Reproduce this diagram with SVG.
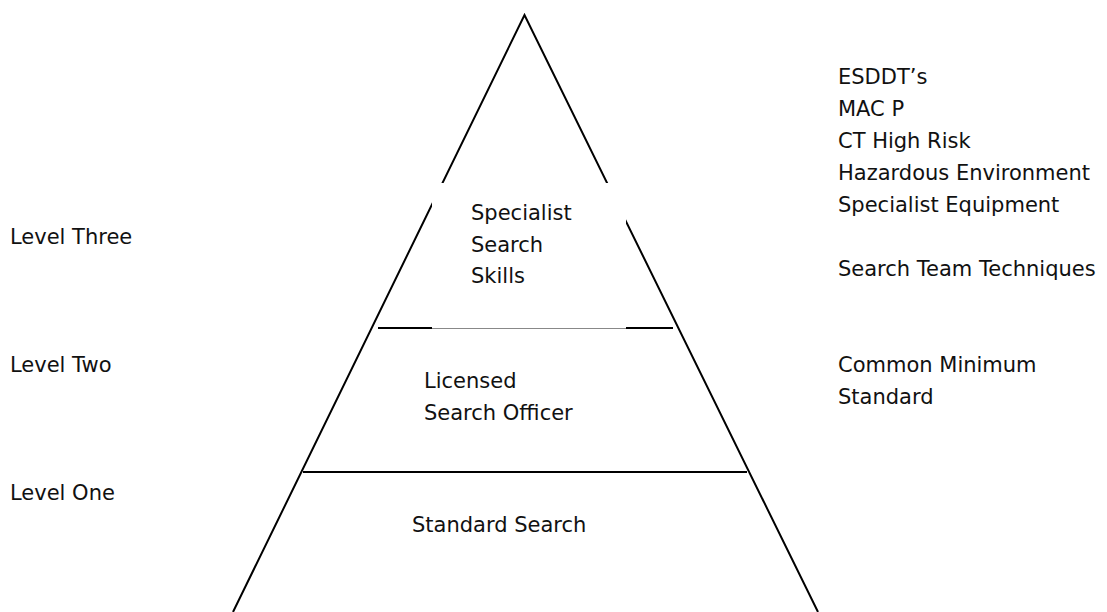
<svg xmlns="http://www.w3.org/2000/svg" width="1107" height="612" viewBox="0 0 1107 612">
<style>
text{font-family:"DejaVu Sans",Verdana,sans-serif;font-size:21px;fill:#111}
.edge{stroke:#000;stroke-width:2;fill:none}
.thin{stroke:#888;stroke-width:1;fill:none}
</style>
<rect width="1107" height="612" fill="#fff"/>
<g id="pyramid">
<path class="edge" d="M233,612 L524.5,15 L818,612"/>
<rect x="432" y="183" width="194" height="145" fill="#fff"/>
</g>
<g id="connectors">
<line class="edge" x1="378" y1="328" x2="432" y2="328"/>
<line class="thin" x1="432" y1="328.5" x2="626" y2="328.5"/>
<line class="edge" x1="626" y1="328" x2="673" y2="328"/>
<line class="edge" x1="303" y1="472" x2="747" y2="472"/>
</g>
<g id="level-three-node">
<text x="471" y="220">Specialist</text>
<text x="471" y="252">Search</text>
<text x="471" y="283">Skills</text>
</g>
<g id="level-two-node">
<text x="424" y="388">Licensed</text>
<text x="424" y="420">Search Officer</text>
</g>
<g id="level-one-node">
<text x="412" y="532">Standard Search</text>
</g>
<g id="level-labels">
<text x="10" y="244">Level Three</text>
<text x="10" y="372">Level Two</text>
<text x="10" y="500">Level One</text>
</g>
<g id="notes-three">
<text x="838" y="84">ESDDT’s</text>
<text x="838" y="116">MAC P</text>
<text x="838" y="148">CT High Risk</text>
<text x="838" y="180">Hazardous Environment</text>
<text x="838" y="212">Specialist Equipment</text>
<text x="838" y="276">Search Team Techniques</text>
</g>
<g id="notes-two">
<text x="838" y="372">Common Minimum</text>
<text x="838" y="404">Standard</text>
</g>
</svg>
